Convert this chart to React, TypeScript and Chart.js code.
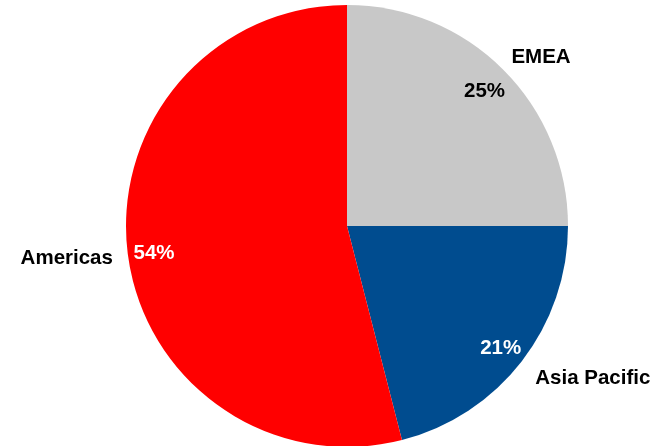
import React, { useEffect, useRef } from "react";
import { Chart, registerables } from "chart.js";

Chart.register(...registerables);

const categories = ["EMEA", "Asia Pacific", "Americas"];
const shares = [25, 21, 54];
const sliceColors = ["#C8C8C8", "#004C8F", "#FF0000"];
const percentColors = ["#000000", "#FFFFFF", "#FFFFFF"];

const labelPlugin = {
  id: "sliceLabels",
  afterDatasetsDraw(chart: any) {
    const ctx = chart.ctx;
    const meta = chart.getDatasetMeta(0);
    ctx.save();
    ctx.font = "bold 20.5px 'Liberation Sans', Arial, sans-serif";
    ctx.textBaseline = "middle";
    meta.data.forEach((arc: any, i: number) => {
      const p = arc.getProps(["x", "y", "startAngle", "endAngle", "outerRadius"], true);
      const mid = (p.startAngle + p.endAngle) / 2;
      const cos = Math.cos(mid);
      const sin = Math.sin(mid);
      const rIn = p.outerRadius * 0.88;
      ctx.fillStyle = percentColors[i];
      ctx.textAlign = "center";
      ctx.fillText(shares[i] + "%", p.x + cos * rIn, p.y + sin * rIn + 3);
      const rOut = p.outerRadius + 20 + Math.max(0, sin) * 8;
      ctx.fillStyle = "#000000";
      ctx.textAlign = cos >= 0 ? "left" : "right";
      ctx.fillText(categories[i], p.x + cos * rOut - (cos >= 0 ? 6 : -6), p.y + sin * rOut + 2);
    });
    ctx.restore();
  },
};

export default function App() {
  const ref = useRef<HTMLCanvasElement | null>(null);
  useEffect(() => {
    if (!ref.current) return;
    const chart = new Chart(ref.current, {
      type: "pie",
      data: {
        labels: categories,
        datasets: [
          {
            data: shares,
            backgroundColor: sliceColors,
            borderWidth: 0,
          },
        ],
      },
      options: {
        animation: false,
        responsive: false,
        maintainAspectRatio: false,
        layout: { padding: { left: 28, right: 0, top: 5, bottom: 5 } },
        plugins: {
          legend: { display: false },
          tooltip: { enabled: false },
        },
      },
      plugins: [labelPlugin],
    });
    return () => chart.destroy();
  }, []);
  return (
    <div style={{ position: "fixed", left: 0, top: 0, width: 666, height: 446, overflow: "hidden", background: "#fff" }}>
      <canvas ref={ref} width={666} height={452} style={{ display: "block", width: 666, height: 452 }} />
    </div>
  );
}
